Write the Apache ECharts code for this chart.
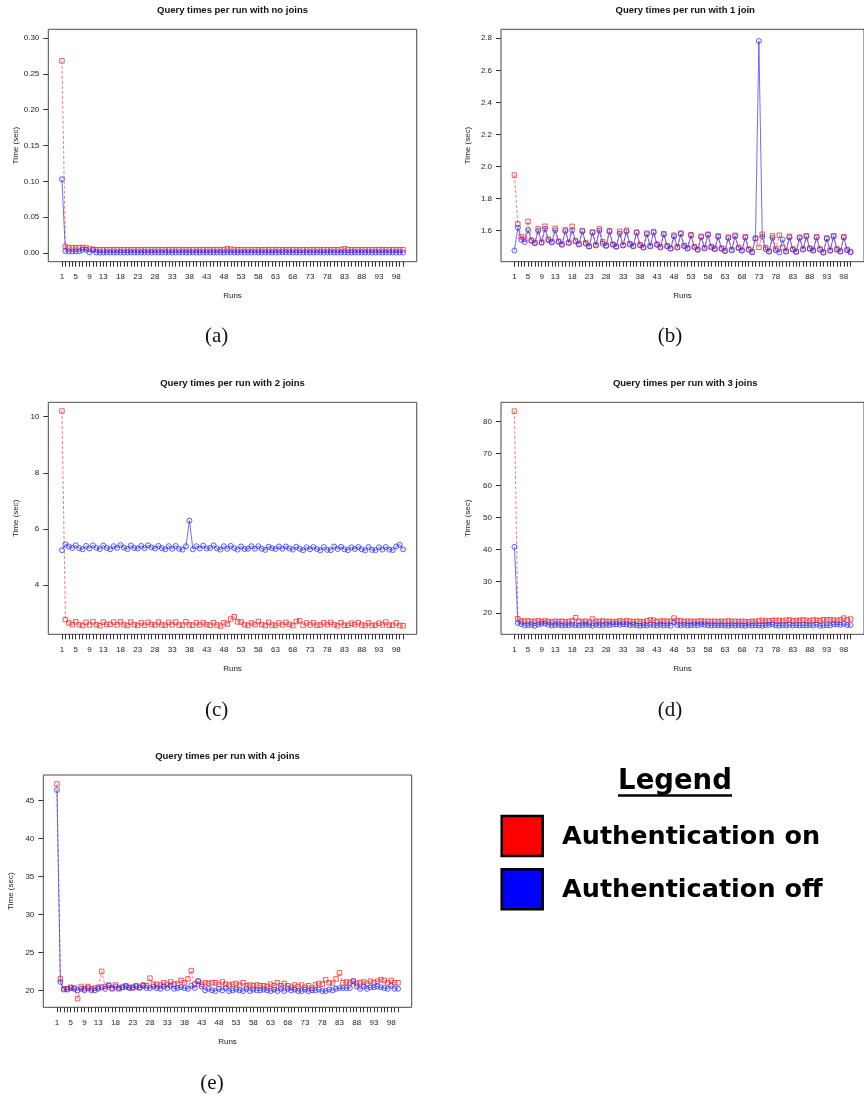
<!DOCTYPE html>
<html>
<head>
<meta charset="utf-8">
<script src="https://cdn.jsdelivr.net/npm/echarts@6/dist/echarts.min.js"></script>
<style>html,body{margin:0;padding:0;background:#fff;}#c{width:864px;height:1099px;}</style>
</head>
<body>
<div id="c"></div>
<script>
// ---------- data ----------
const runs = [1,2,3,4,5,6,7,8,9,10,11,12,13,14,15,16,17,18,19,20,21,22,23,24,25,26,27,28,29,30,31,32,33,34,35,36,37,38,39,40,41,42,43,44,45,46,47,48,49,50,51,52,53,54,55,56,57,58,59,60,61,62,63,64,65,66,67,68,69,70,71,72,73,74,75,76,77,78,79,80,81,82,83,84,85,86,87,88,89,90,91,92,93,94,95,96,97,98,99,100];
const xTickLabels = [1,5,9,13,18,23,28,33,38,43,48,53,58,63,68,73,78,83,88,93,98];

const titles = ["Query times per run with no joins","Query times per run with 1 join","Query times per run with 2 joins","Query times per run with 3 joins","Query times per run with 4 joins"];
const captions = ["(a)","(b)","(c)","(d)","(e)"];
const seriesNames = ["Authentication on","Authentication off"];

const yTicksA = [0,0.05,0.10,0.15,0.20,0.25,0.30];
const yTicksB = [1.6,1.8,2.0,2.2,2.4,2.6,2.8];
const yTicksC = [4,6,8,10];
const yTicksD = [20,30,40,50,60,70,80];
const yTicksE = [20,25,30,35,40,45];

// (a) no joins
const noJoinsOn = [0.268,0.0092,0.0076,0.0074,0.0075,0.0075,0.0078,0.0072,0.0056,0.0052,
0.0048,0.0047,0.0047,0.0048,0.0047,0.0047,0.0048,0.0047,0.0047,0.0047,
0.0048,0.0047,0.0047,0.0047,0.0048,0.0047,0.0047,0.0048,0.0047,0.0047,
0.0047,0.0048,0.0047,0.0047,0.0047,0.0048,0.0047,0.0047,0.0048,0.0047,
0.0047,0.0047,0.0048,0.0047,0.0047,0.0047,0.0048,0.0050,0.0060,0.0054,
0.0049,0.0047,0.0048,0.0047,0.0047,0.0047,0.0048,0.0047,0.0047,0.0047,
0.0048,0.0047,0.0047,0.0048,0.0047,0.0047,0.0047,0.0048,0.0047,0.0047,
0.0047,0.0048,0.0047,0.0047,0.0047,0.0048,0.0047,0.0047,0.0048,0.0047,
0.0047,0.0049,0.0062,0.0050,0.0047,0.0048,0.0047,0.0047,0.0047,0.0048,
0.0047,0.0047,0.0048,0.0047,0.0047,0.0047,0.0048,0.0047,0.0047,0.0047];
const noJoinsOff = [0.103,0.0030,0.0024,0.0023,0.0024,0.0026,0.0045,0.0046,0.0010,0.0042,
0.0009,0.0008,0.0008,0.0009,0.0008,0.0008,0.0008,0.0009,0.0008,0.0008,
0.0009,0.0008,0.0008,0.0008,0.0009,0.0008,0.0008,0.0009,0.0008,0.0008,
0.0008,0.0009,0.0008,0.0008,0.0008,0.0009,0.0008,0.0008,0.0009,0.0008,
0.0008,0.0008,0.0009,0.0008,0.0008,0.0008,0.0009,0.0008,0.0010,0.0009,
0.0008,0.0008,0.0009,0.0008,0.0008,0.0008,0.0009,0.0008,0.0008,0.0008,
0.0009,0.0008,0.0008,0.0010,0.0011,0.0010,0.0009,0.0008,0.0008,0.0008,
0.0008,0.0009,0.0008,0.0008,0.0008,0.0009,0.0008,0.0008,0.0009,0.0008,
0.0008,0.0008,0.0010,0.0008,0.0008,0.0009,0.0008,0.0008,0.0008,0.0009,
0.0008,0.0008,0.0009,0.0008,0.0008,0.0008,0.0009,0.0008,0.0008,0.0008];

// (b) 1 join
const oneJoinOn = [1.947,1.642,1.563,1.548,1.658,1.541,1.526,1.612,1.529,1.628,
1.547,1.531,1.615,1.535,1.517,1.605,1.527,1.627,1.538,1.518,
1.601,1.524,1.504,1.592,1.512,1.612,1.531,1.509,1.600,1.516,
1.503,1.597,1.511,1.603,1.519,1.506,1.591,1.513,1.498,1.585,
1.506,1.593,1.516,1.499,1.582,1.506,1.491,1.572,1.499,1.585,
1.508,1.493,1.575,1.501,1.484,1.565,1.494,1.578,1.501,1.489,
1.568,1.491,1.476,1.560,1.481,1.572,1.496,1.479,1.563,1.486,
1.469,1.553,1.497,1.578,1.495,1.473,1.568,1.488,1.572,1.495,
1.473,1.565,1.486,1.471,1.560,1.486,1.568,1.491,1.479,1.562,
1.486,1.466,1.555,1.479,1.568,1.486,1.473,1.562,1.483,1.469];
const oneJoinOff = [1.477,1.619,1.543,1.530,1.605,1.537,1.522,1.600,1.525,1.612,
1.541,1.527,1.603,1.531,1.512,1.598,1.523,1.603,1.534,1.515,
1.597,1.520,1.501,1.588,1.508,1.600,1.520,1.505,1.595,1.513,
1.500,1.583,1.508,1.595,1.515,1.503,1.587,1.509,1.495,1.578,
1.502,1.590,1.512,1.496,1.577,1.502,1.488,1.565,1.495,1.580,
1.504,1.489,1.570,1.497,1.481,1.560,1.490,1.575,1.497,1.485,
1.562,1.487,1.473,1.555,1.478,1.565,1.492,1.476,1.558,1.482,
1.466,1.551,2.783,1.562,1.485,1.470,1.555,1.478,1.465,1.545,
1.470,1.558,1.482,1.468,1.555,1.482,1.565,1.487,1.475,1.558,
1.482,1.463,1.550,1.475,1.565,1.482,1.470,1.558,1.479,1.466];

// (c) 2 joins
const twoJoinsOn = [10.20,2.78,2.66,2.60,2.70,2.60,2.57,2.68,2.59,2.70,
2.60,2.56,2.69,2.60,2.61,2.69,2.59,2.70,2.60,2.57,
2.69,2.60,2.57,2.66,2.58,2.68,2.60,2.59,2.69,2.59,
2.58,2.68,2.59,2.69,2.59,2.58,2.70,2.59,2.58,2.67,
2.59,2.67,2.60,2.58,2.67,2.59,2.55,2.67,2.62,2.80,
2.88,2.70,2.69,2.60,2.57,2.66,2.60,2.71,2.60,2.57,
2.68,2.59,2.57,2.66,2.59,2.68,2.61,2.57,2.71,2.74,
2.58,2.66,2.59,2.67,2.58,2.59,2.67,2.60,2.68,2.60,
2.56,2.67,2.58,2.58,2.65,2.60,2.67,2.59,2.57,2.66,
2.57,2.58,2.65,2.59,2.69,2.58,2.58,2.66,2.57,2.56];
const twoJoinsOff = [5.25,5.46,5.38,5.33,5.42,5.32,5.28,5.40,5.31,5.42,
5.33,5.29,5.41,5.33,5.28,5.39,5.33,5.43,5.34,5.29,
5.41,5.33,5.31,5.40,5.32,5.42,5.35,5.31,5.40,5.32,
5.28,5.39,5.30,5.40,5.30,5.27,5.39,6.30,5.28,5.39,
5.31,5.41,5.31,5.33,5.42,5.31,5.27,5.39,5.30,5.40,
5.32,5.27,5.38,5.29,5.30,5.39,5.30,5.39,5.30,5.26,
5.37,5.32,5.29,5.38,5.30,5.38,5.31,5.27,5.37,5.30,
5.25,5.35,5.28,5.36,5.29,5.24,5.36,5.26,5.25,5.38,
5.29,5.37,5.28,5.25,5.35,5.29,5.36,5.28,5.24,5.36,
5.26,5.25,5.35,5.27,5.36,5.27,5.25,5.38,5.44,5.28];

// (d) 3 joins
const threeJoinsOn = [83.3,18.3,17.6,17.5,17.6,17.4,17.5,17.7,17.3,17.6,
17.4,17.3,17.5,17.4,17.5,17.3,17.4,17.6,18.6,17.5,
17.4,17.5,17.3,18.2,17.5,17.4,17.6,17.4,17.5,17.3,
17.4,17.6,17.4,17.7,17.5,17.3,17.5,17.4,17.3,17.6,
17.9,17.8,17.4,17.5,17.6,17.4,17.5,18.5,17.7,17.6,
17.4,17.5,17.5,17.4,17.5,17.6,17.4,17.5,17.4,17.5,
17.4,17.5,17.4,17.6,17.4,17.5,17.4,17.5,17.4,17.3,
17.5,17.4,17.6,17.8,17.5,17.6,17.8,17.7,17.8,17.6,
17.8,17.9,17.6,17.7,17.8,17.9,17.8,17.6,17.9,17.8,
17.7,18.0,17.9,18.0,17.9,17.7,18.0,18.5,17.9,18.2];
const threeJoinsOff = [40.8,17.0,16.6,16.2,16.3,16.4,16.1,16.5,16.7,16.8,
16.4,16.2,16.3,16.4,16.2,16.3,16.2,16.4,16.3,16.2,
16.3,16.4,16.3,16.1,16.4,16.3,16.2,16.4,16.3,16.5,
16.6,16.4,16.6,16.5,16.3,16.4,16.2,16.1,16.3,16.2,
16.4,16.3,16.2,16.4,16.2,16.3,16.1,17.2,16.3,16.2,
16.4,16.2,16.3,16.4,16.3,16.5,16.4,16.3,16.2,16.3,
16.2,16.3,16.2,16.1,16.3,16.2,16.3,16.2,16.1,16.3,
16.2,16.3,16.2,16.1,16.3,16.4,16.5,16.2,16.1,16.3,
16.2,16.4,16.2,16.3,16.2,16.3,16.2,16.3,16.2,16.5,
16.1,16.2,16.3,16.2,16.6,16.5,16.4,16.7,16.3,16.3];

// (e) 4 joins
const fourJoinsOn = [47.2,21.5,20.2,20.2,20.4,20.3,18.9,20.5,20.2,20.5,
20.2,20.3,20.4,22.5,20.5,20.6,20.2,20.7,20.2,20.4,
20.6,20.4,20.3,20.6,20.4,20.7,20.6,21.6,20.8,20.8,
20.7,21.0,20.8,21.1,20.8,20.9,21.3,21.0,21.5,22.6,
20.8,21.2,20.8,21.0,20.9,21.0,21.0,20.8,21.1,20.8,
20.7,20.8,20.9,20.7,21.0,20.6,20.7,20.6,20.7,20.6,
20.6,20.5,20.8,20.6,21.0,20.6,20.9,20.6,20.4,20.7,
20.5,20.7,20.4,20.6,20.3,20.7,20.9,20.8,21.4,21.0,
20.9,21.5,22.3,21.0,21.1,21.0,21.2,20.9,21.0,21.1,
20.9,21.2,21.0,21.2,21.4,21.3,21.0,21.3,21.0,21.0];
const fourJoinsOff = [46.4,21.1,20.1,20.1,20.3,20.2,20.0,20.2,20.0,20.3,
20.0,20.0,20.2,20.4,20.2,20.7,20.3,20.5,20.3,20.4,
20.5,20.3,20.4,20.5,20.3,20.6,20.3,20.3,20.5,20.3,
20.2,20.5,20.3,20.6,20.2,20.3,20.4,20.3,20.2,20.6,
20.3,21.2,20.5,20.0,20.2,20.0,19.9,20.2,20.0,20.3,
19.9,20.0,20.1,20.0,19.9,20.2,19.9,20.1,20.0,20.0,
20.1,20.0,19.9,20.1,19.9,20.2,19.9,20.2,20.0,20.1,
19.9,19.9,20.1,19.9,20.0,20.0,20.1,19.9,19.9,20.1,
20.0,20.2,20.3,20.3,20.3,20.3,21.2,20.5,20.2,20.5,
20.2,20.4,20.4,20.5,20.4,20.3,20.2,20.6,20.2,20.2];

// ---------- layout / style ----------
const FONT = "'Liberation Sans', Arial, Helvetica, sans-serif";
const RED_LINE = 'rgba(245,50,50,0.65)';
const RED_MK = 'rgba(240,40,40,0.75)';
const BLUE_LINE = 'rgba(50,50,255,0.7)';
const BLUE_MK = 'rgba(40,40,255,0.75)';

const panels = [
  {on: noJoinsOn, off: noJoinsOff, ticks: yTicksA, dec: 2, ymin: -0.012, ymax: 0.312,
   box: {left: 48.3, top: 29.3, width: 368.4, height: 232.4}, cap: [216.7, 336.5]},
  {on: oneJoinOn, off: oneJoinOff, ticks: yTicksB, dec: 1, ymin: 1.407, ymax: 2.856,
   box: {left: 501, top: 29.3, width: 368.4, height: 232.4}, cap: [670, 336.5]},
  {on: twoJoinsOn, off: twoJoinsOff, ticks: yTicksC, dec: 0, ymin: 2.256, ymax: 10.51,
   box: {left: 48.3, top: 402.3, width: 368.4, height: 232}, cap: [216.7, 710]},
  {on: threeJoinsOn, off: threeJoinsOff, ticks: yTicksD, dec: 0, ymin: 13.42, ymax: 86.07,
   box: {left: 501, top: 402.3, width: 368.4, height: 232}, cap: [670, 710]},
  {on: fourJoinsOn, off: fourJoinsOff, ticks: yTicksE, dec: 0, ymin: 17.76, ymax: 48.39,
   box: {left: 43.3, top: 775, width: 368.4, height: 232.3}, cap: [212, 1083]}
];

const grid = [], xAxis = [], yAxis = [], series = [], title = [], graphic = [];
panels.forEach((p, i) => {
  grid.push(Object.assign({show: true, borderColor: '#4a4a4a', borderWidth: 1, backgroundColor: 'transparent'}, p.box));
  title.push({
    text: titles[i], left: p.box.left + 184.2, top: p.box.top - 24, textAlign: 'center', padding: 0,
    textStyle: {fontFamily: FONT, fontSize: 9.5, fontWeight: 'bold', color: '#111'}
  });
  xAxis.push({
    type: 'value', gridIndex: i, min: -2.96, max: 103.96, position: 'bottom',
    axisLine: {show: false, onZero: false}, splitLine: {show: false},
    axisTick: {show: true, inside: false, customValues: runs, length: 5, lineStyle: {color: '#333', width: 1}},
    axisLabel: {customValues: xTickLabels, fontFamily: FONT, fontSize: 8, color: '#222', margin: 11},
    name: 'Runs', nameLocation: 'middle', nameGap: 30,
    nameTextStyle: {fontFamily: FONT, fontSize: 8, color: '#222'}
  });
  yAxis.push({
    type: 'value', gridIndex: i, min: p.ymin, max: p.ymax, position: 'left',
    axisLine: {show: false, onZero: false}, splitLine: {show: false},
    axisTick: {show: true, inside: false, customValues: p.ticks, length: 5, lineStyle: {color: '#333', width: 1}},
    axisLabel: {customValues: p.ticks, fontFamily: FONT, fontSize: 8, color: '#222', margin: 9,
      formatter: (v) => Number(v).toFixed(p.dec)},
    name: 'Time (sec)', nameLocation: 'middle', nameGap: 29, nameRotate: 90,
    nameTextStyle: {fontFamily: FONT, fontSize: 8, color: '#222'}
  });
  series.push({
    type: 'line', name: seriesNames[0], xAxisIndex: i, yAxisIndex: i,
    data: runs.map((r, k) => [r, p.on[k]]),
    symbol: 'rect', symbolSize: 4.5, showAllSymbol: true, silent: true, animation: false,
    lineStyle: {color: RED_LINE, width: 1, type: [3, 2]},
    itemStyle: {color: 'transparent', borderColor: RED_MK, borderWidth: 1}
  });
  series.push({
    type: 'line', name: seriesNames[1], xAxisIndex: i, yAxisIndex: i,
    data: runs.map((r, k) => [r, p.off[k]]),
    symbol: 'circle', symbolSize: 5, showAllSymbol: true, silent: true, animation: false,
    lineStyle: {color: BLUE_LINE, width: 1},
    itemStyle: {color: 'transparent', borderColor: BLUE_MK, borderWidth: 1}
  });
  graphic.push({
    type: 'text', x: p.cap[0], y: p.cap[1],
    style: {text: captions[i], fill: '#111', align: 'center', verticalAlign: 'middle',
      font: "21px 'Liberation Serif', 'DejaVu Serif', serif"}
  });
});

// legend drawn as graphic (big boxes + bold text)
const LEGEND_FONT = "'DejaVu Sans', Verdana, sans-serif";
graphic.push(
  {type: 'text', x: 675, y: 782, style: {text: 'Legend', fill: '#000', align: 'center', verticalAlign: 'middle',
    font: "bold 27.5px " + LEGEND_FONT}},
  {type: 'line', shape: {x1: 618, y1: 795.5, x2: 732, y2: 795.5}, style: {stroke: '#000', lineWidth: 2.5}},
  {type: 'rect', shape: {x: 501.7, y: 816, width: 41, height: 40}, style: {fill: '#ff0000', stroke: '#000', lineWidth: 2.5}},
  {type: 'rect', shape: {x: 501.7, y: 869.3, width: 41, height: 40}, style: {fill: '#0000ff', stroke: '#000', lineWidth: 2.5}},
  {type: 'text', x: 562, y: 837, style: {text: seriesNames[0], fill: '#000', align: 'left', verticalAlign: 'middle',
    font: "bold 25.5px " + LEGEND_FONT}},
  {type: 'text', x: 562, y: 890, style: {text: seriesNames[1], fill: '#000', align: 'left', verticalAlign: 'middle',
    font: "bold 25.5px " + LEGEND_FONT}}
);

const chart = echarts.init(document.getElementById('c'), null, {renderer: 'canvas'});
chart.setOption({
  animation: false,
  backgroundColor: '#ffffff',
  title: title,
  grid: grid,
  xAxis: xAxis,
  yAxis: yAxis,
  series: series,
  graphic: graphic
});
</script>
</body>
</html>
